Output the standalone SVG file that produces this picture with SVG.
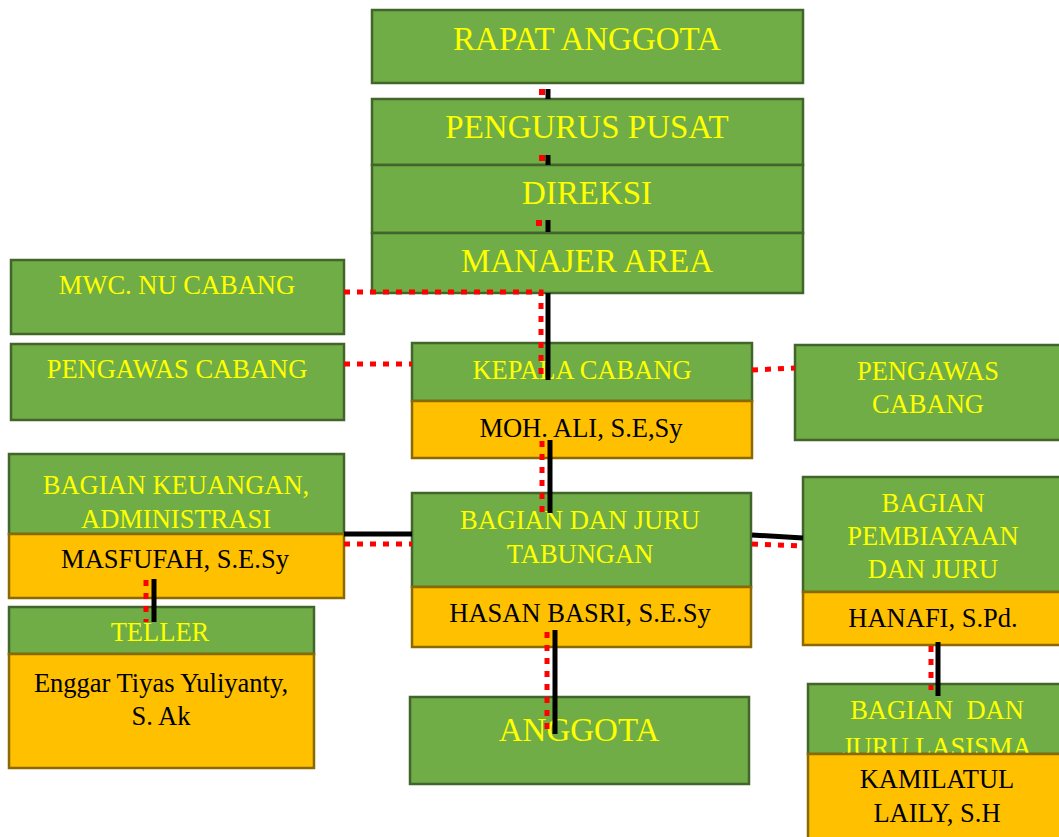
<svg xmlns="http://www.w3.org/2000/svg" width="1059" height="837" viewBox="0 0 1059 837">
<style>
.g{fill:#70AD47;stroke:#41652A;stroke-width:2.5}
.y{fill:#FFC000;stroke:#8A6A00;stroke-width:2.5}
.t{font-family:"Liberation Serif","Times New Roman",serif;text-anchor:middle}
.ty{fill:#FFFF00}
.tb{fill:#000}
.s25{font-size:26.5px}
.s31{font-size:33px}
.bl{stroke:#000;stroke-width:5;fill:none}
.rd{stroke:#FF0000;stroke-width:5;stroke-dasharray:6 7;fill:none}
</style>
<rect width="1059" height="837" fill="#fff"/>
<g id="rapat-anggota"><rect class="g" x="372" y="10" width="431" height="73"/><text class="t ty s31" x="587" y="50">RAPAT ANGGOTA</text></g>
<g id="pengurus-pusat"><rect class="g" x="372" y="99" width="431" height="66"/><text class="t ty s31" x="587" y="138">PENGURUS PUSAT</text></g>
<g id="direksi"><rect class="g" x="372" y="165" width="431" height="68"/><text class="t ty s31" x="587" y="204">DIREKSI</text></g>
<g id="manajer-area"><rect class="g" x="372" y="233" width="431" height="60"/><text class="t ty s31" x="587" y="272">MANAJER AREA</text></g>
<g id="mwc-nu-cabang"><rect class="g" x="11" y="260" width="333" height="74"/><text class="t ty s25" x="177" y="294">MWC. NU CABANG</text></g>
<g id="pengawas-cabang-kiri"><rect class="g" x="11" y="344" width="333" height="76"/><text class="t ty s25" x="177" y="378">PENGAWAS CABANG</text></g>
<g id="kepala-cabang"><rect class="g" x="412" y="343" width="340" height="58"/><rect class="y" x="412" y="401" width="340" height="57"/><text class="t ty s25" x="582" y="379">KEPALA CABANG</text><text class="t tb s25" x="581" y="437">MOH. ALI, S.E,Sy</text></g>
<g id="pengawas-cabang-kanan"><rect class="g" x="795" y="345" width="270" height="95"/><text class="t ty s25" x="928" y="380">PENGAWAS</text><text class="t ty s25" x="928" y="413">CABANG</text></g>
<g id="bagian-keuangan"><rect class="g" x="9" y="454" width="335" height="80"/><rect class="y" x="9" y="534" width="335" height="64"/><text class="t ty s25" x="176" y="494">BAGIAN KEUANGAN,</text><text class="t ty s25" x="176" y="528">ADMINISTRASI</text><text class="t tb s25" x="175" y="568">MASFUFAH, S.E.Sy</text></g>
<g id="bagian-tabungan"><rect class="g" x="412" y="493" width="339" height="94"/><rect class="y" x="412" y="587" width="339" height="60"/><text class="t ty s25" x="580" y="529">BAGIAN DAN JURU</text><text class="t ty s25" x="580" y="563">TABUNGAN</text><text class="t tb s25" x="580" y="622">HASAN BASRI, S.E.Sy</text></g>
<g id="bagian-pembiayaan"><rect class="g" x="803" y="477" width="262" height="115"/><rect class="y" x="803" y="592" width="262" height="53"/><text class="t ty s25" x="933" y="512">BAGIAN</text><text class="t ty s25" x="933" y="545">PEMBIAYAAN</text><text class="t ty s25" x="933" y="578">DAN JURU</text><text class="t tb s25" x="933" y="627">HANAFI, S.Pd.</text></g>
<g id="teller"><rect class="g" x="9" y="607" width="305" height="47"/><rect class="y" x="9" y="654" width="305" height="114"/><text class="t ty s25" x="160" y="641">TELLER</text><text class="t tb s25" x="161" y="692">Enggar Tiyas Yuliyanty,</text><text class="t tb s25" x="161" y="725">S. Ak</text></g>
<g id="anggota"><rect class="g" x="410" y="697" width="339" height="87"/><text class="t ty s31" x="579" y="741">ANGGOTA</text></g>
<g id="bagian-lasisma"><rect class="g" x="808" y="684" width="257" height="70"/><text class="t ty s25" x="937" y="719" xml:space="preserve">BAGIAN  DAN</text><text class="t ty s25" x="937" y="756">JURU LASISMA</text><rect class="y" x="808" y="754" width="257" height="95"/><text class="t tb s25" x="937" y="788">KAMILATUL</text><text class="t tb s25" x="937" y="822">LAILY, S.H</text></g>
<g id="connectors">
<line class="bl" x1="548" y1="89" x2="548" y2="99"/><rect x="539" y="89" width="6" height="6" fill="#FF0000"/>
<line class="bl" x1="548" y1="155" x2="548" y2="165"/><rect x="539" y="155" width="6" height="6" fill="#FF0000"/>
<line class="bl" x1="548" y1="220" x2="548" y2="232"/><rect x="536" y="220" width="6" height="6" fill="#FF0000"/>
<path class="rd" d="M344 292 H541 V375"/>
<line class="bl" x1="548" y1="293" x2="548" y2="380"/>
<line class="rd" x1="344" y1="364" x2="412" y2="364"/>
<line class="rd" x1="752" y1="370" x2="795" y2="368"/>
<line class="rd" x1="542" y1="441" x2="542" y2="513"/>
<line class="bl" x1="550" y1="440" x2="550" y2="513"/>
<line class="bl" x1="344" y1="534" x2="412" y2="534"/>
<line class="rd" x1="344" y1="544" x2="412" y2="544"/>
<line class="bl" x1="752" y1="535" x2="803" y2="538"/>
<line class="rd" x1="752" y1="544" x2="803" y2="546"/>
<line class="rd" x1="146" y1="580" x2="146" y2="622"/>
<line class="bl" x1="154" y1="579" x2="154" y2="622"/>
<line class="rd" x1="547" y1="632" x2="547" y2="731"/>
<line class="bl" x1="555" y1="630" x2="555" y2="734"/>
<line class="rd" x1="931" y1="646" x2="931" y2="690"/>
<line class="bl" x1="938" y1="642" x2="938" y2="696"/>
</g>
</svg>
